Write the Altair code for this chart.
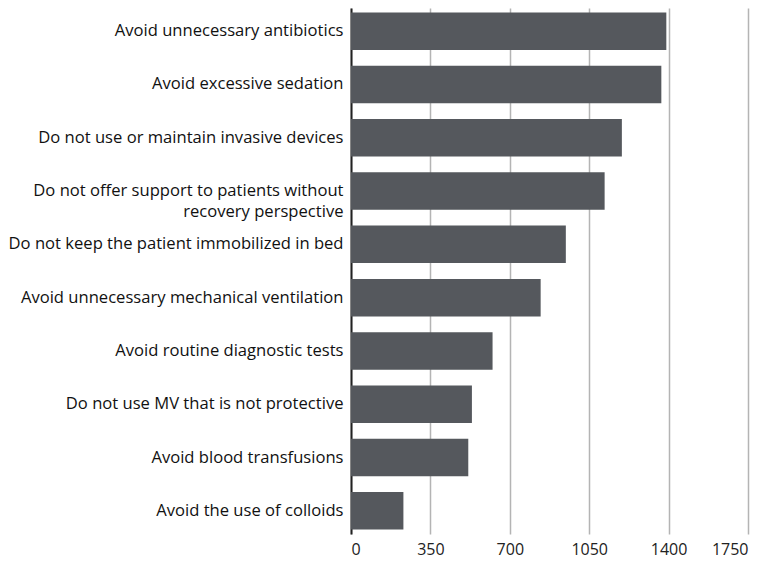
import altair as alt
import pandas as pd

categories = [
    "Avoid unnecessary antibiotics",
    "Avoid excessive sedation",
    "Do not use or maintain invasive devices",
    "Do not offer support to patients without|recovery perspective",
    "Do not keep the patient immobilized in bed",
    "Avoid unnecessary mechanical ventilation",
    "Avoid routine diagnostic tests",
    "Do not use MV that is not protective",
    "Avoid blood transfusions",
    "Avoid the use of colloids",
]
values = [1390, 1368, 1194, 1118, 947, 836, 624, 533, 517, 231]
x_ticks = [0, 350, 700, 1050, 1400, 1750]

df = pd.DataFrame({"category": categories, "value": values})

chart = alt.Chart(df).mark_bar(color="#55585d").encode(
    x=alt.X(
        "value:Q",
        scale=alt.Scale(domain=[0, 1750], nice=False),
        axis=alt.Axis(
            values=x_ticks,
            format="d",
            title=None,
            grid=True,
            gridColor="#b4b4b4",
            gridWidth=1.5,
            domain=False,
            ticks=False,
            labelFont="Open Sans",
            labelFontSize=16,
            labelColor="#222222",
            labelPadding=7,
        ),
    ),
    y=alt.Y(
        "category:N",
        sort=categories,
        scale=alt.Scale(paddingInner=0.296, paddingOuter=0.083),
        axis=alt.Axis(
            title=None,
            ticks=False,
            domainColor="#222222",
            domainWidth=2,
            labelFont="Open Sans",
            labelFontSize=16.6,
            labelColor="#111111",
            labelPadding=8,
            labelLimit=400,
            labelLineHeight=21,
            labelExpr="split(datum.label, '|')",
        ),
    ),
).properties(
    width=397,
    height=526,
    padding={"left": 0, "top": 0, "right": 5, "bottom": 2},
).configure_view(stroke=None)

chart.save("out.html", embed_options={"renderer": "svg", "actions": False})
